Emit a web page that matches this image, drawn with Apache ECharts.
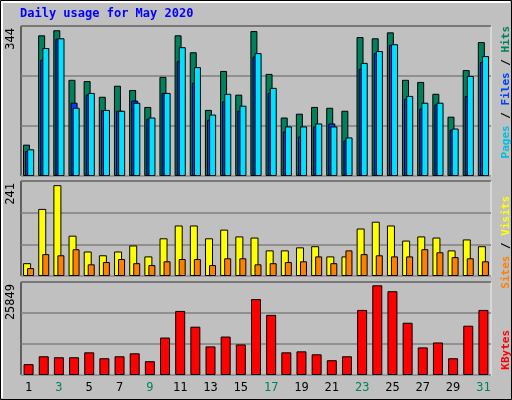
<!DOCTYPE html>
<html>
<head>
<meta charset="utf-8">
<script src="https://cdn.jsdelivr.net/npm/echarts@6/dist/echarts.min.js"></script>
<style>html,body{margin:0;padding:0;background:#c0c0c0;}#main{width:512px;height:400px;}</style>
</head>
<body>
<div id="main"></div>
<script>
// daily stats, May 2020
var days = ['1','2','3','4','5','6','7','8','9','10','11','12','13','14','15','16','17','18','19','20','21','22','23','24','25','26','27','28','29','30','31'];
var weekend = ['2','3','9','10','16','17','23','24','30','31'];
var hits = [74,332,344,227,224,187,213,203,163,234,332,292,156,248,192,342,241,138,147,163,161,154,328,325,339,227,222,194,140,250,316];
var files = [59,274,324,173,192,155,154,178,135,196,271,220,133,176,154,282,196,105,93,117,124,84,253,290,309,182,159,169,109,189,269];
var pages = [63,302,325,161,196,156,154,173,138,196,304,257,145,194,166,290,208,117,117,124,117,91,267,295,311,189,173,173,112,236,283];
var visits = [34,178,241,107,65,55,65,81,52,100,134,134,100,123,105,102,68,68,76,79,52,52,126,144,134,94,105,102,68,97,79];
var sites = [21,58,55,71,31,37,45,34,29,39,45,45,29,47,47,31,34,37,39,52,34,68,58,55,52,52,71,63,50,47,39];
var kbytes = [3125,5398,5114,5114,6534,4830,5398,6250,3977,10796,18466,13921,8239,11080,8807,21876,17330,6534,6818,5966,4261,5398,18750,25849,24145,15057,7955,9375,4830,14205,18750];

var myChart = echarts.init(document.getElementById('main'));
var font = 'DejaVu Sans Mono';
var panels = [
    {top: 26, height: 150, max: 354, label: '344'},
    {top: 181, height: 95, max: 252, label: '241'},
    {top: 282, height: 93, max: 26800, label: '25849'}
];
var grids = [], xAxes = [], yAxes = [], graphics = [];
panels.forEach(function (p, i) {
    grids.push({left: 21, right: 21, top: p.top, height: p.height, show: true,
        backgroundColor: '#c0c0c0', borderColor: '#000', borderWidth: 1});
    xAxes.push({type: 'category', data: days, gridIndex: i,
        axisLine: {show: false}, axisTick: {show: false},
        axisLabel: i === 2 ? {
            show: true, fontFamily: font, fontSize: 12, margin: 7,
            color: function (v) { return weekend.indexOf(v) >= 0 ? '#00805c' : '#000'; }
        } : {show: false}
    });
    yAxes.push({type: 'value', gridIndex: i, min: 0, max: p.max, interval: p.max / 3,
        axisLabel: {show: false}, axisLine: {show: false}, axisTick: {show: false},
        splitLine: {lineStyle: {color: '#808080', width: 1.5}}});
    // bevel: white right/bottom edges
    graphics.push({type: 'polyline', silent: true,
        shape: {points: [[491, p.top], [491, p.top + p.height], [21, p.top + p.height]]},
        style: {stroke: '#fff', lineWidth: 1.5, fill: null}});
    graphics.push({type: 'text', left: 5, top: p.top + 2, rotation: Math.PI / 2,
        style: {text: p.label, font: '12px ' + font, fill: '#000'}});
});

function sideLabel(y, parts) {
    var rich = {};
    var txt = parts.map(function (pt, k) {
        rich['a' + k] = {fill: pt[1], font: 'bold 11px ' + font};
        return '{a' + k + '|' + pt[0] + '}';
    }).join('');
    return {type: 'text', right: 0, top: y, rotation: Math.PI / 2,
        style: {text: txt, rich: rich}};
}
graphics.push(sideLabel(26, [['Pages', '#00c0e0'], [' / ', '#000'], ['Files', '#0040ff'], [' / ', '#000'], ['Hits', '#00805c']]));
graphics.push(sideLabel(196, [['Sites', '#ff8000'], [' / ', '#000'], ['Visits', '#ffff00']]));
graphics.push(sideLabel(330, [['KBytes', '#ff0000']]));
graphics.push({type: 'text', left: 20, top: 8,
    style: {text: 'Daily usage for May 2020', font: 'bold 12px ' + font, fill: '#0000ff'}});
// outer frame
graphics.push({type: 'rect', silent: true, shape: {x: 0.5, y: 0.5, width: 511, height: 399},
    style: {stroke: '#000', fill: null, lineWidth: 1}});
graphics.push({type: 'polyline', silent: true, shape: {points: [[2, 398], [2, 2], [510, 2]]},
    style: {stroke: '#fff', fill: null, lineWidth: 2}});

var barStyle = function (c) { return {color: c, borderColor: '#000', borderWidth: 1}; };
myChart.setOption({
    backgroundColor: '#c0c0c0',
    animation: false,
    grid: grids, xAxis: xAxes, yAxis: yAxes,
    graphic: graphics,
    series: [
        {name: 'Hits', type: 'bar', data: hits, barWidth: 7, barGap: '-70%', itemStyle: barStyle('#00805c')},
        {name: 'Files', type: 'bar', data: files, barWidth: 7, barGap: '-70%', itemStyle: barStyle('#0040ff')},
        {name: 'Pages', type: 'bar', data: pages, barWidth: 7, barGap: '-70%', itemStyle: barStyle('#00e0ff')},
        {name: 'Visits', type: 'bar', data: visits, xAxisIndex: 1, yAxisIndex: 1, barWidth: 8, barGap: '-50%', itemStyle: barStyle('#ffff00')},
        {name: 'Sites', type: 'bar', data: sites, xAxisIndex: 1, yAxisIndex: 1, barWidth: 7, barGap: '-50%', itemStyle: barStyle('#ff8000')},
        {name: 'KBytes', type: 'bar', data: kbytes, xAxisIndex: 2, yAxisIndex: 2, barWidth: 10, itemStyle: barStyle('#ff0000')}
    ]
});
</script>
</body>
</html>
